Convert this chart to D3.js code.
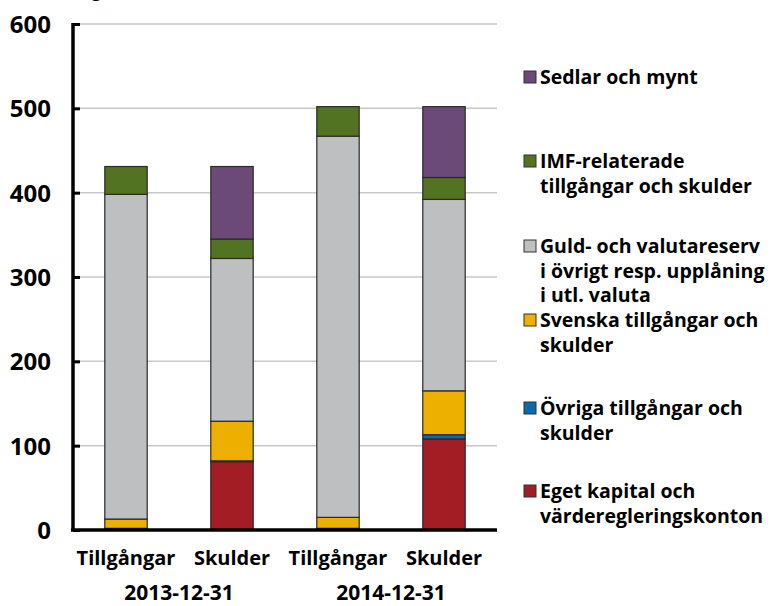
<!DOCTYPE html>
<html>
<head>
<meta charset="utf-8">
<script src="https://cdn.jsdelivr.net/npm/d3@7"></script>
<style>
  body { margin: 0; background: #fff; }
  svg text { font-family: "Open Sans", "Noto Sans", sans-serif; font-weight: bold; fill: #000; }
</style>
</head>
<body>
<svg id="chart" width="776" height="606"></svg>
<script>
// categories (one bar each) and their date groups
const bars = ["T2013", "S2013", "T2014", "S2014"];
const barLabels = ["Tillgångar", "Skulder", "Tillgångar", "Skulder"];
const dates = ["2013-12-31", "2014-12-31"];

// series, bottom to top (billions SEK)
const seriesNames = ["Eget kapital och värderegleringskonton", "Övriga tillgångar och skulder",
  "Svenska tillgångar och skulder", "Guld- och valutareserv i övrigt resp. upplåning i utl. valuta",
  "IMF-relaterade tillgångar och skulder", "Sedlar och mynt"];
const eget     = [0, 81, 0, 108];
const ovriga   = [2, 1, 2, 5];
const svenska  = [11, 47, 13, 52];
const guld     = [385, 193, 452, 227];
const imf      = [33, 23, 35, 26];
const sedlar   = [0, 86, 0, 84];
const yTicks = [0, 100, 200, 300, 400, 500, 600];

const colors = ["#a21d24", "#0b6aa8", "#edb000", "#bebfc1", "#527321", "#6b4a77"];
const legendLines = [
  ["Sedlar och mynt"],
  ["IMF-relaterade", "tillgångar och skulder"],
  ["Guld- och valutareserv", "i övrigt resp. upplåning", "i utl. valuta"],
  ["Svenska tillgångar och", "skulder"],
  ["Övriga tillgångar och", "skulder"],
  ["Eget kapital och", "värderegleringskonton"]
];

const seriesValues = [eget, ovriga, svenska, guld, imf, sedlar];
const table = bars.map((b, i) => {
  const row = { bar: b };
  seriesNames.forEach((s, k) => row[s] = seriesValues[k][i]);
  return row;
});
const stacked = d3.stack().keys(seriesNames)(table);

const svg = d3.select("#chart");
const plotLeft = 73, plotRight = 497, plotTop = 24, plotBottom = 530;

const x = d3.scaleBand().domain(bars).range([plotLeft, plotRight]).paddingInner(0.6).paddingOuter(0.3);
const y = d3.scaleLinear().domain([0, 600]).range([plotBottom, plotTop]);

// unit text, cut off at the top like the source
svg.append("text").attr("x", 4).attr("y", -3).style("font-size", "17px").text("Mdr kr, dagsvärde");

// gridlines
svg.append("g").selectAll("line").data(yTicks.filter(d => d > 0)).join("line")
  .attr("x1", plotLeft).attr("x2", plotRight)
  .attr("y1", d => y(d)).attr("y2", d => y(d))
  .attr("stroke", "#c8c8c8").attr("stroke-width", 1.5);

// bars
svg.append("g").selectAll("g").data(stacked).join("g")
  .attr("fill", (d, i) => colors[i])
  .selectAll("rect").data(d => d.filter(p => p[1] > p[0])).join("rect")
  .attr("x", d => x(d.data.bar))
  .attr("width", x.bandwidth())
  .attr("y", d => y(d[1]))
  .attr("height", d => y(d[0]) - y(d[1]))
  .attr("stroke", "#2a2a2a").attr("stroke-width", 1.2);

// y axis
const yAxis = svg.append("g").attr("transform", `translate(${plotLeft},0)`)
  .call(d3.axisRight(y).tickValues(yTicks).tickSize(7).tickFormat(""));
yAxis.select(".domain").attr("stroke", "#000").attr("stroke-width", 3.5).attr("d", `M0,${plotTop - 1}V${plotBottom}`);
yAxis.selectAll(".tick line").attr("stroke", "#000").attr("stroke-width", 3);

svg.append("g").selectAll("text").data(yTicks).join("text")
  .attr("x", 51).attr("y", d => y(d) + 9)
  .attr("text-anchor", "end").style("font-size", "24px")
  .text(d => d);

// x axis
svg.append("line").attr("x1", plotLeft - 2).attr("x2", plotRight)
  .attr("y1", plotBottom).attr("y2", plotBottom)
  .attr("stroke", "#000").attr("stroke-width", 3.5);

svg.append("g").selectAll("text").data(bars).join("text")
  .attr("x", d => x(d) + x.bandwidth() / 2).attr("y", 565)
  .attr("text-anchor", "middle").style("font-size", "20px")
  .text((d, i) => barLabels[i]);

svg.append("g").selectAll("text").data(dates).join("text")
  .attr("x", (d, i) => (x(bars[i * 2]) + x(bars[i * 2 + 1]) + x.bandwidth()) / 2)
  .attr("y", 600)
  .attr("text-anchor", "middle").style("font-size", "21px")
  .text(d => d);

// legend
const legendY = [84, 168, 253, 327, 415, 498];
const legendColors = colors.slice().reverse();
const lg = svg.append("g");
legendLines.forEach((lines, i) => {
  lg.append("rect").attr("x", 524).attr("y", legendY[i] - 13)
    .attr("width", 12).attr("height", 12)
    .attr("fill", legendColors[i]).attr("stroke", "#333").attr("stroke-width", 1);
  lines.forEach((t, j) => {
    lg.append("text").attr("x", 540).attr("y", legendY[i] + j * 24.5)
      .style("font-size", "19.5px").text(t);
  });
});
</script>
</body>
</html>
